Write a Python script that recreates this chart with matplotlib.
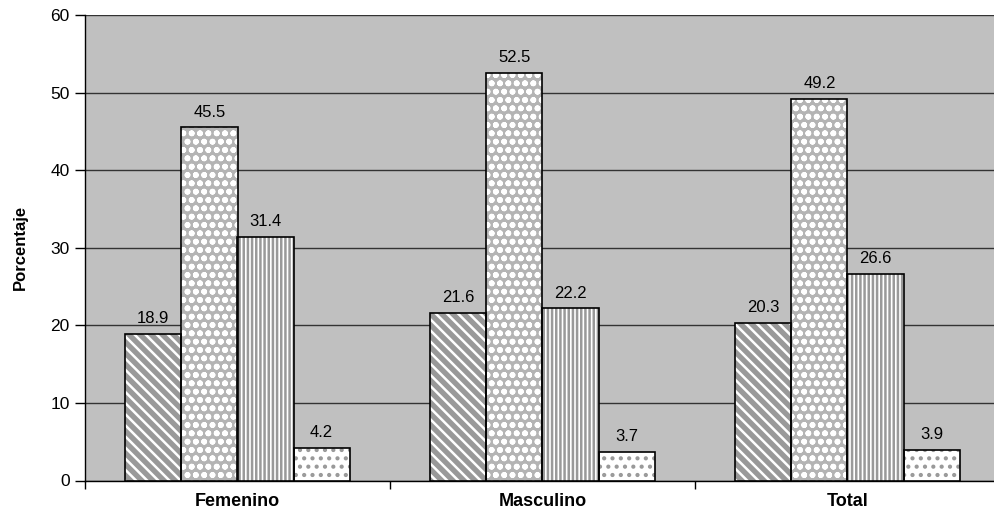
import numpy as np
import matplotlib.pyplot as plt

categories = ["Femenino", "Masculino", "Total"]
series_a = [18.9, 21.6, 20.3]
series_b = [45.5, 52.5, 49.2]
series_c = [31.4, 22.2, 26.6]
series_d = [4.2, 3.7, 3.9]
yticks = [0, 10, 20, 30, 40, 50, 60]

plt.rcParams['font.family'] = ['Liberation Sans', 'DejaVu Sans']
plt.rcParams['hatch.linewidth'] = 1.8

fig = plt.figure(figsize=(9.94, 5.16), dpi=100)
# plot area runs a little past the right edge of the image, as in the original
ax = fig.add_axes([85 / 994, 35.5 / 516, 915 / 994, 465.5 / 516])
ax.set_facecolor('#c0c0c0')

x = np.arange(len(categories))
w = 0.184
styles = [
    # face, hatch colour, hatch
    ('#999999', 'white', '\\\\\\'),
    ('#b4b4b4', 'white', 'oo'),
    ('white', '#999999', '||||'),
    ('white', '#999999', '..'),
]
all_series = [series_a, series_b, series_c, series_d]

for i, (vals, (face, hcol, hatch)) in enumerate(zip(all_series, styles)):
    pos = x + (i - 1.5) * w
    ax.bar(pos, vals, w, color=face, edgecolor=hcol, hatch=hatch, linewidth=0, zorder=3)
    ax.bar(pos, vals, w, fill=False, edgecolor='black', linewidth=1.2, zorder=4)
    for p, v in zip(pos, vals):
        ax.text(p, v + 1.0, f"{v:.1f}", ha='center', va='bottom', fontsize=12, zorder=5)

ax.set_xlim(-0.5, len(categories) - 0.5)
ax.set_ylim(0, 60)
ax.set_yticks(yticks)
ax.tick_params(axis='y', labelsize=12.5, length=7, width=1, direction='out', pad=4)
ax.yaxis.grid(True, color='#333333', linewidth=1)
ax.set_axisbelow(True)

ax.set_xticks(np.arange(len(categories) + 1) - 0.5)
ax.set_xticklabels([])
ax.set_xticks(x, minor=True)
ax.set_xticklabels(categories, minor=True, fontweight='bold', fontsize=13)
ax.tick_params(axis='x', which='major', length=6, width=1)
ax.tick_params(axis='x', which='minor', length=0, pad=9)

for s in ['top', 'right']:
    ax.spines[s].set_visible(False)
ax.spines['left'].set_linewidth(1)
ax.spines['bottom'].set_linewidth(1)

ax.set_ylabel("Porcentaje", fontweight='bold', fontsize=12, labelpad=16)

fig.savefig("out.png", dpi=100, facecolor='white')
